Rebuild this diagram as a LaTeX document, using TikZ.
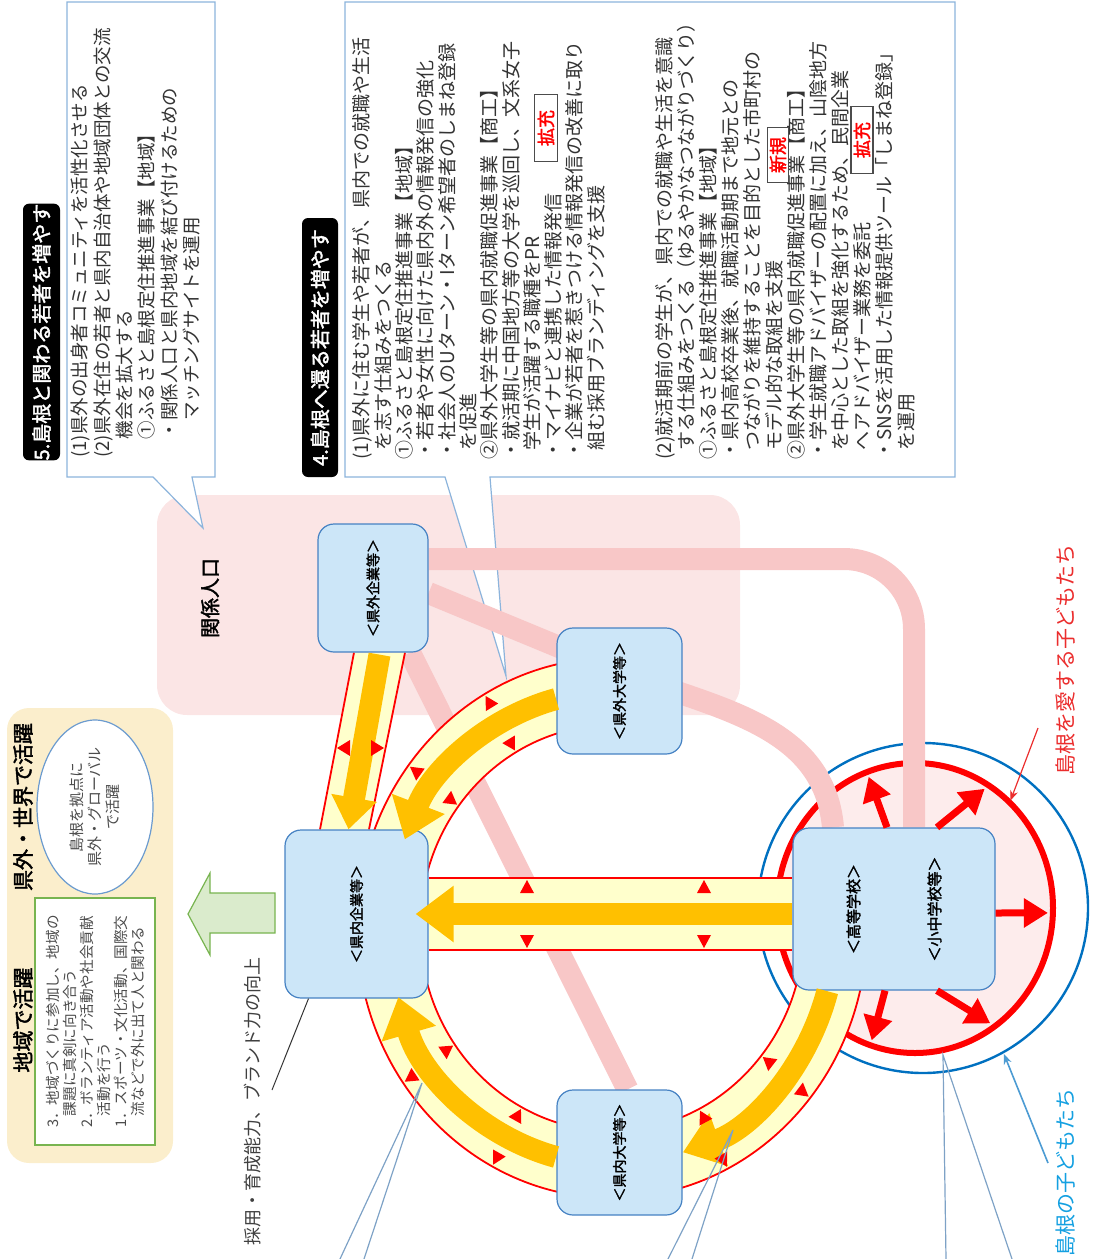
\documentclass[tikz,border=0pt]{standalone}
\usepackage{fontspec}
\setmainfont{Noto Sans CJK JP}
\newfontfamily\jpb[FakeBold=2]{Noto Sans CJK JP}
\usetikzlibrary{arrows.meta,positioning,calc,shapes.geometric}
\pgfdeclarelayer{back}
\pgfsetlayers{back,main}
\lineskiplimit=-20pt
\lineskip=0pt
\definecolor{boxfill}{RGB}{204,230,248}
\definecolor{boxedge}{RGB}{70,130,195}
\definecolor{pinkbg}{RGB}{251,229,229}
\definecolor{pinkline}{RGB}{248,199,199}
\definecolor{bandyellow}{RGB}{255,255,204}
\definecolor{bandorange}{RGB}{255,192,0}
\definecolor{circpink}{RGB}{253,236,236}
\definecolor{ringblue}{RGB}{0,112,192}
\definecolor{calloutblue}{RGB}{140,180,220}
\definecolor{beige}{RGB}{251,238,204}
\definecolor{leafgreen}{RGB}{120,180,80}
\definecolor{leaffill}{RGB}{218,235,204}
\definecolor{labelred}{RGB}{235,45,45}
\definecolor{labelcyan}{RGB}{20,160,225}

\begin{document}
\begin{tikzpicture}[x=0.5pt, y=0.5pt,
    unitbox/.style={draw=boxedge, fill=boxfill, rounded corners=8pt, line width=0.6pt, rotate=90, inner sep=0pt, font=\jpb\fontsize{7}{8}\selectfont},
    hdr/.style={fill=black, text=white, rounded corners=3pt, rotate=90, inner sep=0pt, font=\jpb\fontsize{10}{11}\selectfont},
    memo/.style={rotate=90, anchor=north west, inner sep=0pt, align=left, text=black!80, font=\fontsize{9.5}{10.65}\selectfont},
    callout/.style={draw=calloutblue, fill=white, line width=0.6pt},
    tagbox/.style={draw=black!70, fill=white, line width=0.6pt, rotate=90, inner sep=0pt, text=red, font=\jpb\fontsize{9}{10}\selectfont},
    bandline/.style={draw=red, line width=0.9pt},
    orgarrow/.style={draw=bandorange, line width=11pt, -{Triangle[length=19pt, width=27pt]}},
    radarrow/.style={draw=red, line width=3.5pt, -{Triangle[length=12pt, width=14pt]}},
    pinkpath/.style={draw=pinkline, line width=11pt},
    pointer/.style={draw=calloutblue!90!black, line width=0.6pt}
]
\useasboundingbox (0,0) rectangle (1101,-1259);

% organisations
\node[unitbox, minimum width=64pt, minimum height=55pt] (kgk) at (373,-588) {＜県外企業等＞};
\node[unitbox, minimum width=63pt, minimum height=62.5pt] (kgd) at (619.5,-691) {＜県外大学等＞};
\node[unitbox, minimum width=84pt, minimum height=71.5pt] (knk) at (356.5,-914) {＜県内企業等＞};
\node[unitbox, minimum width=62.5pt, minimum height=62.5pt] (knd) at (619.5,-1152.5) {＜県内大学等＞};
\node[unitbox, minimum width=81pt, minimum height=101pt, align=center, font=\jpb\fontsize{7.5}{40.5}\selectfont] (sch) at (894,-909) {＜高等学校＞\\＜小中学校等＞};

\coordinate (rc) at (612,-928);
\coordinate (rcc) at (915,-908);
\coordinate (bcc) at (923,-908);
\coordinate (hbt) at (0,-878);
\coordinate (hbm) at (0,-914);
\coordinate (hbb) at (0,-950);

\begin{pgfonlayer}{back}
% areas
\fill[pinkbg, rounded corners=15pt] (157,-495) rectangle (740,-715);
\fill[beige, rounded corners=11pt] (7,-708) rectangle (173,-1163);
\draw[callout] (67,-2) -- (215,-2) -- (215,-477) -- (192,-477) -- (203,-528) -- (153,-477) -- (67,-477) -- cycle;
\draw[callout] (345,-2) -- (955,-2) -- (955,-477) -- (490,-477) -- (506,-676) -- (445,-477) -- (345,-477) -- cycle;
% children circles
\draw[ringblue, line width=1.2pt] (bcc) circle[radius=165];
\draw[red, line width=3pt, fill=circpink] (rcc) circle[x radius=138, y radius=145];
% related population
\draw[pinkpath, rounded corners=35pt] ($(kgk.south)+(0,29)$) -| ($(sch.east)+(20,0)$);
\draw[pinkpath] ($(kgk.south)+(0,-5)$) -- (610,-668) to[out=-22, in=95] ($(sch.east)+(-61,0)$);
\draw[pinkpath] ($(kgk.west)+(37,0)$) -- ($(knd.east)+(8,0)$);
% bands
\fill[bandyellow] ($(rc)+(90:255 and 270)$) arc[start angle=90, end angle=360, x radius=255, y radius=270]
    -- ($(rc)+(0:192 and 203)$) arc[start angle=360, end angle=90, x radius=192, y radius=203] -- cycle;
\draw[bandline] ($(rc)+(90:255 and 270)$) arc[start angle=90, end angle=360, x radius=255, y radius=270];
\draw[bandline] ($(rc)+(90:192 and 203)$) arc[start angle=90, end angle=360, x radius=192, y radius=203];
\fill[bandyellow] (knk.south |- hbt) rectangle (sch.north |- hbb);
\draw[bandline] (knk.south |- hbt) -- (sch.north |- hbt);
\draw[bandline] (knk.south |- hbb) -- (sch.north |- hbb);
\fill[bandyellow] ($(kgk.west)+(-19,0)$) -- ($(kgk.west)+(32,0)$) -- ($(knk.east)+(12.5,0)$) -- ($(knk.east)+(-36.5,0)$) -- cycle;
\draw[bandline] ($(kgk.west)+(-19,0)$) -- ($(knk.east)+(-36.5,0)$);
\draw[bandline] ($(kgk.west)+(32,0)$) -- ($(knk.east)+(12.5,0)$);
\end{pgfonlayer}

% flows
\draw[orgarrow] (sch.north |- hbm) -- ($(knk.south |- hbm)+(-13,0)$);
\draw[orgarrow, -{Triangle[length=16pt, width=22pt]}] ($(kgk.west)+(6.5,-2)$) -- ($(knk.east)+(-8,0)$);
\draw[orgarrow] ($(rc)+(104.5:223.5 and 236.5)$) arc[start angle=104.5, end angle=158, x radius=223.5, y radius=236.5];
\draw[orgarrow] ($(rc)+(255.5:223.5 and 236.5)$) arc[start angle=255.5, end angle=197, x radius=223.5, y radius=236.5];
\draw[orgarrow] ($(rc)+(344.5:223.5 and 236.5)$) arc[start angle=344.5, end angle=288.5, x radius=223.5, y radius=236.5];

% small red tips on the band edges
\foreach \ang in {120,143,215,242,297,321} {
  \fill[red] ($(rc)+(\ang:253 and 268)$) -- ($(rc)+(\ang+1.7:240 and 255)$) -- ($(rc)+(\ang-1.7:240 and 255)$) -- cycle;
  \fill[red] ($(rc)+(\ang:194 and 205)$) -- ($(rc)+(\ang+2:207 and 218)$) -- ($(rc)+(\ang-2:207 and 218)$) -- cycle;
}
\foreach \x in {527,704} {
  \fill[red] (\x,-880) -- ++(-7,-13) -- ++(14,0) -- cycle;
  \fill[red] (\x,-948) -- ++(-7,13) -- ++(14,0) -- cycle;
}
\fill[red] (337,-748) -- (350,-740) -- (350,-756) -- cycle;
\fill[red] (384,-748) -- (371,-740) -- (371,-756) -- cycle;

% schools to the circle
\draw[radarrow] ($(sch.east)+(-7,0)$) -- ($(rcc)+(110.4:133 and 140)$);
\draw[radarrow] ($(sch.east)+(43,0)$) -- ($(rcc)+(58.4:133 and 140)$);
\draw[radarrow] ($(sch.south)+(0,-4)$) -- ($(rcc)+(-2:133 and 140)$);
\draw[radarrow] ($(sch.west)+(-9,0)$) -- ($(rcc)+(251:133 and 140)$);
\draw[radarrow] ($(sch.west)+(43,0)$) -- ($(rcc)+(304.5:133 and 140)$);

% labels round the circles
\node[rotate=90, text=labelred, font=\fontsize{10.5}{11}\selectfont] (lovekids) at (1065,-660) {島根を愛する子どもたち};
\node[rotate=90, text=labelcyan, font=\fontsize{10.5}{11}\selectfont] (kids) at (1065,-1172) {島根の子どもたち};
\coordinate (lovetail) at (1038,-728);
\coordinate (kidstail) at (1048,-1163);
\draw[labelred, line width=0.6pt, -{Stealth[length=5pt, width=4pt]}] (lovetail) -- ($(rcc)+(47:140 and 147)$);
\draw[ringblue!70, line width=0.8pt, -{Stealth[length=5pt, width=4pt]}] (kidstail) -- ($(bcc)+(-61:167)$);

% callout lines from below
\coordinate (pa) at (422,-1083);
\coordinate (pb) at (733,-1130);
\coordinate (pc) at (943,-1055);
\coordinate (pa1) at (340,-1259);
\coordinate (pa2) at (364,-1259);
\coordinate (pb1) at (668,-1259);
\coordinate (pb2) at (692,-1259);
\coordinate (pc1) at (946,-1259);
\coordinate (pc2) at (1012,-1259);
\draw[pointer] (pa1) -- (pa) -- (pa2);
\draw[pointer] (pb1) -- (pb) -- (pb2);
\draw[pointer] (pc1) -- (pc) -- (pc2);

% related population label
\node[rotate=90, font=\jpb\fontsize{10}{11}\selectfont] (kankei) at (210,-598) {関係人口};

% brand
\node[rotate=90, text=black!75, font=\fontsize{9}{10}\selectfont] (brand) at (253,-1101) {採用・育成能力、ブランド力の向上};
\coordinate (brandtip) at (272,-1090);
\draw[black!80, line width=0.5pt] ($(knk.west)+(-48,0)$) -- (brandtip);

% active area
\draw[leafgreen, fill=leaffill, line width=0.6pt] (275,-893) -- (210,-893) -- (210,-873) -- (188,-914) -- (210,-955) -- (210,-933) -- (275,-933) -- cycle;
\node[rotate=90, font=\jpb\fontsize{10.5}{11}\selectfont] (world) at (23,-807) {県外・世界で活躍};
\node[rotate=90, font=\jpb\fontsize{10.5}{11}\selectfont] (local) at (23,-1020) {地域で活躍};
\node[ellipse, draw=boxedge!80, fill=white, line width=0.6pt, rotate=90, minimum width=87pt, minimum height=58pt, inner sep=0pt, align=center, text=black!70, font=\fontsize{7.5}{9}\selectfont] (globe) at (95,-807) {島根を拠点に\\県外・グローバル\\で活躍};
\node[draw=leafgreen, fill=white, line width=0.6pt, rotate=90, minimum width=123.5pt, minimum height=60pt, inner sep=0pt, align=left, text=black!70, font=\fontsize{7.3}{8.5}\selectfont] (region) at (95,-1021.5) {3．地域づくりに参加し、地域の\\\hspace*{0.8em}課題に真剣に向き合う\\2．ボランティア活動や社会貢献\\\hspace*{0.8em}活動を行う\\1．スポーツ・文化活動、国際交\\\hspace*{0.8em}流などで外に出て人と関わる};

% headings
\node[hdr, minimum width=125pt, minimum height=18.5pt] (head5) at (41.5,-332) {5.島根と関わる若者を増やす};
\node[hdr, minimum width=129.5pt, minimum height=18pt] (head4) at (320,-347.5) {4.島根へ還る若者を増やす};

% measures
\node[memo, font=\fontsize{9.25}{11.2}\selectfont] (memo5) at (70.8,-458) {(1)県外の出身者コミュニティを活性化させる\\(2)県外在住の若者と県内自治体や地域団体との交流\\\hspace*{1em}機会を拡大する\\\hspace*{1em}①ふるさと島根定住推進事業【地域】\\\hspace*{1em}・関係人口と県内地域を結び付けるための\\\hspace*{2em}マッチングサイトを運用};
\node[memo] (memo4a) at (352.5,-460) {(1)県外に住む学生や若者が、県内での就職や生活\\\hspace*{0.5em}を志す仕組みをつくる\\①ふるさと島根定住推進事業【地域】\\・若者や女性に向けた県内外の情報発信の強化\\・社会人のUターン・Iターン希望者のしまね登録\\\hspace*{0.5em}を促進\\②県外大学生等の県内就職促進事業【商工】\\・就活期に中国地方等の大学を巡回し、文系女子\\\hspace*{0.5em}学生が活躍する職種をPR\\・マイナビと連携した情報発信\\・企業が若者を惹きつける情報発信の改善に取り\\\hspace*{0.5em}組む採用ブランディングを支援};
\node[memo, font=\fontsize{9.5}{11}\selectfont] (memo4b) at (655.5,-460) {(2)就活期前の学生が、県内での就職や生活を意識\\\hspace*{0.5em}する仕組みをつくる（ゆるやかなつながりづくり）\\①ふるさと島根定住推進事業【地域】\\・県内高校卒業後、就職活動期まで地元との\\\hspace*{0.5em}つながりを維持することを目的とした市町村の\\\hspace*{0.5em}モデル的な取組を支援\\②県外大学生等の県内就職促進事業【商工】\\・学生就職アドバイザーの配置に加え、山陰地方\\\hspace*{0.5em}を中心とした取組を強化するため、民間企業\\\hspace*{0.5em}へアドバイザー業務を委託\\・SNSを活用した情報提供ツール「しまね登録」\\\hspace*{0.5em}を運用};
\node[tagbox, minimum width=33.5pt, minimum height=11.5pt] (tag1) at (546,-128) {拡充};
\node[tagbox, minimum width=27.5pt, minimum height=10.5pt] (tag2) at (778,-155) {新規};
\node[tagbox, minimum width=33.5pt, minimum height=11pt] (tag3) at (862,-140) {拡充};
\end{tikzpicture}
\end{document}
